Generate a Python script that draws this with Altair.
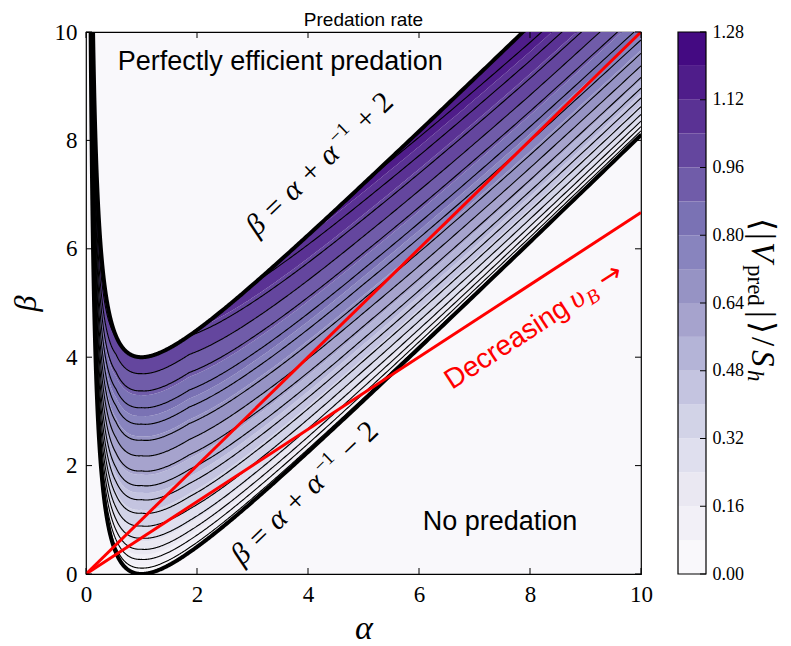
import numpy as np
import pandas as pd
import altair as alt

# ---------------- values ----------------
fill_step = 0.08                       # filled bands (colorbar): 0.00 ... 1.28
n_bands = 16
line_step = 0.064                      # spacing of the black contour lines
cbar_ticks = [0.00, 0.16, 0.32, 0.48, 0.64, 0.80, 0.96, 1.12, 1.28]
axis_ticks = [0, 2, 4, 6, 8, 10]
# value reached on the upper boundary, read at a few alpha columns
vm_alpha = [0.10, 0.19, 0.32, 0.54, 1.00, 1.86, 3.10, 5.20, 8.00, 10.0]
vm_value = [1.20, 1.153, 1.089, 1.025, 1.02, 1.025, 1.089, 1.153, 1.21, 1.23]
# how the contours crowd towards the lower boundary, read at a few columns
p_alpha = [0.10, 0.50, 1.00, 3.00, 5.00, 10.0]
p_value = [1.50, 1.35, 1.30, 1.45, 1.55, 1.75]
band_offset = [-2.0, 2.0]              # beta = alpha + 1/alpha -/+ 2 (labels on chart)
red_slopes = [1.0, 0.667]              # red rays beta = s * alpha
purples_hex = ["#fcfbfd", "#efedf5", "#dadaeb", "#bcbddc", "#9e9ac8",
               "#807dba", "#6a51a3", "#54278f", "#3f007d"]

W, H = 555, 542


def hex2rgb(h):
    return [int(h[i:i + 2], 16) for i in (1, 3, 5)]


def purples(t):
    nodes = np.array([hex2rgb(h) for h in purples_hex], float)
    pos = np.linspace(0, 1, len(purples_hex))
    rgb = [int(round(np.interp(t, pos, nodes[:, i]))) for i in range(3)]
    return "#%02x%02x%02x" % tuple(rgb)


band_colors = [purples((k + 0.5) / n_bands) for k in range(n_bands)]
bg = band_colors[0]

# ---------------- geometry of the band ----------------
a = np.geomspace(0.07, 10, 700)
lower = a + 1 / a + band_offset[0]
upper = a + 1 / a + band_offset[1]
bw = band_offset[1] - band_offset[0]
vm = np.interp(np.log(a), np.log(vm_alpha), vm_value)
pp = np.interp(np.log(a), np.log(p_alpha), p_value)


def level_curve(v):
    return lower + bw * np.clip(v / vm, 0, 1) ** pp


fills = [level_curve(k * fill_step) for k in range(n_bands + 1)]
band_rows = []
for k in range(1, n_bands):
    band_rows.append(pd.DataFrame({"a": a, "b": fills[k], "b2": fills[k + 1],
                                   "k": k, "col": band_colors[k]}))
bands_df = pd.concat(band_rows)

n_lines = int(round(1.28 / line_step))
cl_rows = [pd.DataFrame({"a": a, "b": level_curve(k * line_step), "k": k})
           for k in range(1, n_lines)]
contour_df = pd.concat(cl_rows)

bound_df = pd.concat([pd.DataFrame({"a": a, "b": lower, "k": "low"}),
                      pd.DataFrame({"a": a, "b": upper, "k": "up"})])

red_df = pd.concat([pd.DataFrame({"a": [0.0, 10.0], "b": [0.0, 10.0 * s], "k": i})
                    for i, s in enumerate(red_slopes)])

serif = "Liberation Serif"
sans = "Liberation Sans"

xs = alt.Scale(domain=[0, 10], nice=False, zero=False)
ys = alt.Scale(domain=[0, 10], nice=False, zero=False)
xaxis = alt.Axis(values=axis_ticks, ticks=False, domain=False, grid=False,
                 labelFont=serif, labelFontSize=23, labelPadding=9, labelColor="black",
                 labelFlush=False, labelOverlap=False, format="d",
                 title="α", titleFont=serif, titleFontStyle="italic",
                 titleFontWeight="normal", titleFontSize=34, titlePadding=5,
                 titleColor="black")
yaxis = alt.Axis(values=axis_ticks, ticks=False, domain=False, grid=False,
                 labelFont=serif, labelFontSize=23, labelPadding=9, labelColor="black",
                 labelFlush=False, labelOverlap=False, format="d",
                 title="β", titleFont=serif, titleFontStyle="italic",
                 titleFontWeight="normal", titleFontSize=32, titlePadding=12,
                 titleColor="black")
X = alt.X("a:Q", scale=xs, axis=xaxis)
Y = alt.Y("b:Q", scale=ys, axis=yaxis, stack=None)

bands = alt.Chart(bands_df).mark_area(clip=True, interpolate="linear").encode(
    x=X, y=Y, y2="b2:Q", color=alt.Color("col:N", scale=None), detail="k:N")
contours = alt.Chart(contour_df).mark_line(clip=True, color="black", strokeWidth=1.1).encode(
    x=X, y=Y, detail="k:N")
bounds = alt.Chart(bound_df).mark_line(clip=True, color="black", strokeWidth=4).encode(
    x=X, y=Y, detail="k:N")
reds = alt.Chart(red_df).mark_line(clip=True, color="#ff0000", strokeWidth=3).encode(
    x=X, y=Y, detail="k:N")


def to_data(px, py):
    return px / W * 10, (H - py) / H * 10


def text_layer(rows, **kw):
    df = pd.DataFrame(rows, columns=["a", "b", "t"])
    return alt.Chart(df).mark_text(**kw).encode(x=X, y=Y, text="t:N")


def along(p0, deg, pieces, color):
    """text pieces set along a rotated baseline (plot pixels)"""
    th = np.deg2rad(deg)
    u = np.array([np.cos(th), np.sin(th)])
    dn = np.array([-np.sin(th), np.cos(th)])
    out = []
    for txt, fnt, fs, sty, al, d in pieces:
        p = np.array(p0, float) + u * al + dn * d
        aa, bb = to_data(p[0], p[1])
        out.append(text_layer([(aa, bb, txt)], font=fnt, fontSize=fs, fontStyle=sty,
                              angle=(deg + 360) % 360, align="left",
                              baseline="alphabetic", color=color))
    return out


t_perfect = text_layer([(3.5, 9.45, "Perfectly efficient predation")],
                       font=sans, fontSize=27, color="black")
t_nopred = text_layer([(7.46, 0.96, "No predation")],
                      font=sans, fontSize=27, color="black")

up_pieces = [("β = α + α", serif, 30, "italic", 0, 0),
             ("−1", serif, 19, "normal", 121, -12),
             ("+ 2", serif, 30, "normal", 152, 0)]
low_pieces = [("β = α + α", serif, 30, "italic", 0, 0),
              ("−1", serif, 19, "normal", 121, -12),
              ("− 2", serif, 30, "normal", 152, 0)]
t_up = along((171, 205), -44, up_pieces, "black")
t_low = along((156, 534), -44, low_pieces, "black")

dec_pieces = [("Decreasing", sans, 28, "normal", 0, 0),
              ("υ", serif, 30, "italic", 148, 0),
              ("B", serif, 20, "italic", 163, 5),
              ("→", "DejaVu Sans", 28, "normal", 183, -1)]
t_dec = along((366, 358), -33, dec_pieces, "#ff0000")

# inward ticks on all four sides
xt_df = pd.DataFrame({"a": axis_ticks})
yt_df = pd.DataFrame({"b": axis_ticks})
tick_layers = [
    alt.Chart(xt_df).mark_rule(color="black").encode(x=X, y=alt.value(H), y2=alt.value(H - 6)),
    alt.Chart(xt_df).mark_rule(color="black").encode(x=X, y=alt.value(0), y2=alt.value(6)),
    alt.Chart(yt_df).mark_rule(color="black").encode(y=Y, x=alt.value(0), x2=alt.value(6)),
    alt.Chart(yt_df).mark_rule(color="black").encode(y=Y, x=alt.value(W - 6), x2=alt.value(W)),
]

title = alt.Chart(pd.DataFrame({"t": ["Predation rate"]})).mark_text(
    font=sans, fontSize=19, color="black", baseline="middle").encode(
    x=alt.value(W / 2), y=alt.value(-12), text="t:N")

main = alt.layer(bands, contours, bounds, reds, t_perfect, t_nopred, *t_up, *t_low,
                 *t_dec, *tick_layers, title)

# ---------------- colorbar ----------------
cb_x0, cb_x1 = 592, 620
levels = [round(k * fill_step, 2) for k in range(n_bands + 1)]
cb_df = pd.DataFrame({"lo": levels[:-1], "hi": levels[1:], "col": band_colors})
cbs = alt.Scale(domain=[0, levels[-1]], nice=False, zero=False)
cbaxis = alt.Axis(orient="right", offset=cb_x1 - W, values=cbar_ticks, format=".2f",
                  ticks=False, domain=False, grid=False, labelFont=serif,
                  labelFontSize=18, labelPadding=6, labelColor="black", title=None,
                  labelFlush=False, labelOverlap=False)
YC = alt.Y("lo:Q", scale=cbs, axis=cbaxis)
cb_rects = alt.Chart(cb_df).mark_rect().encode(
    y=YC, y2="hi:Q", x=alt.value(cb_x0), x2=alt.value(cb_x1),
    color=alt.Color("col:N", scale=None))
cb_frame = alt.Chart(pd.DataFrame({"lo": [0.0], "hi": [levels[-1]]})).mark_rect(
    fill=None, stroke="black", strokeWidth=1.2).encode(
    y=YC, y2="hi:Q", x=alt.value(cb_x0), x2=alt.value(cb_x1))
cb_ticks = alt.Chart(pd.DataFrame({"lo": cbar_ticks})).mark_rule(color="black").encode(
    y=YC, x=alt.value(cb_x1 - 6), x2=alt.value(cb_x1))
cbar = alt.layer(cb_rects, cb_frame, cb_ticks)

# colorbar label  <|V_pred|>/S_h  (rotated, reading downward)
lab_pieces = [("⟨", 33, "normal", 186, 0), ("|", 33, "normal", 201, 0),
              ("V", 33, "italic", 210, 0), ("pred", 23, "normal", 233, -4),
              ("|", 33, "normal", 279, 0), ("⟩", 33, "normal", 289, 0),
              ("/", 33, "normal", 305, 0), ("S", 33, "italic", 318, 0),
              ("h", 23, "italic", 338, -4)]
lab_layers = []
for txt, fs, sty, ystart, dx in lab_pieces:
    lab_layers.append(alt.Chart(pd.DataFrame({"t": [txt]})).mark_text(
        font=serif, fontSize=fs, fontStyle=sty, angle=90, align="left",
        baseline="alphabetic", color="black").encode(
        x=alt.value(666 + dx), y=alt.value(ystart), text="t:N"))

chart = alt.layer(main, cbar, *lab_layers).resolve_scale(y="independent").properties(
    width=W, height=H, autosize="none",
    padding={"left": 78, "top": 24, "right": 142, "bottom": 70},
).configure_view(stroke="black", strokeWidth=1.2, fill=bg)

chart.save("out.html", embed_options={"renderer": "svg", "actions": False})
